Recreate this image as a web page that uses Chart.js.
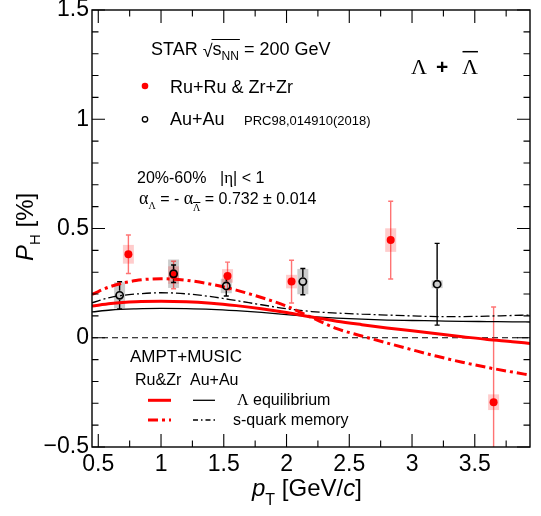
<!DOCTYPE html>
<html>
<head>
<meta charset="utf-8">
<title>Lambda polarization vs pT</title>
<script src="https://cdn.jsdelivr.net/npm/chart.js@4.4.1/dist/chart.umd.min.js"></script>
<style>
  body { margin: 0; background: #fff; }
  canvas { display: block; }
</style>
</head>
<body>
<canvas id="myChart" width="541" height="516"></canvas>
<script>
var SANS = '"Liberation Sans", Arial, Helvetica, sans-serif';
var SERIF = '"Liberation Serif", "Times New Roman", serif';

// axis ticks
var xTicks = [0.5, 1, 1.5, 2, 2.5, 3, 3.5];
var xTickLabels = ['0.5', '1', '1.5', '2', '2.5', '3', '3.5'];
var yTicks = [-0.5, 0, 0.5, 1, 1.5];
var yTickLabels = ['\u22120.5', '0', '0.5', '1', '1.5'];

// Ru+Ru & Zr+Zr, 20-60%
var ruX = [0.74, 1.10, 1.53, 2.04, 2.83, 3.65];
var ruY = [0.382, 0.287, 0.283, 0.257, 0.447, -0.295];
var ruStat = [0.088, 0.063, 0.063, 0.098, 0.178, 0.436];
var ruSys = [0.043, 0.040, 0.031, 0.031, 0.054, 0.036];

// Au+Au, PRC98,014910(2018)
var auX = [0.67, 1.10, 1.52, 2.13, 3.20];
var auY = [0.194, 0.293, 0.237, 0.257, 0.245];
var auStat = [0.062, 0.040, 0.046, 0.060, 0.187];
var auSys = [0.060, 0.065, 0.033, 0.058, 0.018];

// AMPT+MUSIC curves
var modelX = [0.45, 0.6, 0.8, 1.0, 1.2, 1.4, 1.6, 1.8, 2.0, 2.2, 2.4, 2.6, 2.8, 3.0, 3.2, 3.4, 3.6, 3.8, 3.94];
var ruEq  = [0.145, 0.157, 0.165, 0.167, 0.165, 0.158, 0.147, 0.133, 0.116, 0.095, 0.076, 0.060, 0.045, 0.032, 0.018, 0.005, -0.008, -0.018, -0.026];
var ruMem = [0.199, 0.235, 0.262, 0.270, 0.263, 0.245, 0.218, 0.184, 0.145, 0.093, 0.042, 0.008, -0.024, -0.055, -0.085, -0.112, -0.136, -0.157, -0.171];
var auEq  = [0.118, 0.127, 0.132, 0.134, 0.133, 0.130, 0.124, 0.116, 0.106, 0.097, 0.090, 0.085, 0.081, 0.079, 0.077, 0.075, 0.074, 0.073, 0.072];
var auMem = [0.160, 0.185, 0.200, 0.206, 0.201, 0.188, 0.170, 0.151, 0.133, 0.120, 0.113, 0.108, 0.104, 0.100, 0.097, 0.097, 0.099, 0.102, 0.104];

function pts(xs, ys) {
    return xs.map(function (x, i) { return { x: x, y: ys[i] }; });
}

var BOX_HALF = 5.5;
var RED_DASH = [10, 4, 3, 4];
var BLK_DASH = [9, 3, 2, 3];

// write a run of text pieces: [text, font, dy]
function rich(c, x, y, parts) {
    parts.forEach(function (p) {
        c.font = p[1];
        c.fillText(p[0], x, y + (p[2] || 0));
        x += c.measureText(p[0]).width;
    });
    return x;
}

// sys boxes, stat bars and the zero line under the graphs
var errors = {
    id: 'errors',
    beforeDatasetsDraw: function (chart) {
        var c = chart.ctx, a = chart.chartArea, xs = chart.scales.x, ys = chart.scales.y;
        c.save();
        c.beginPath();
        c.rect(a.left, a.top, a.right - a.left, a.bottom - a.top);
        c.clip();

        var y0 = ys.getPixelForValue(0);
        c.strokeStyle = '#000';
        c.lineWidth = 1;
        c.setLineDash([6, 4]);
        c.beginPath();
        c.moveTo(a.left, y0);
        c.lineTo(a.right, y0);
        c.stroke();
        c.setLineDash([]);

        function boxes(X, Y, S, col) {
            c.fillStyle = col;
            for (var i = 0; i < X.length; i++) {
                var cx = xs.getPixelForValue(X[i]);
                var t = ys.getPixelForValue(Y[i] + S[i]);
                var b = ys.getPixelForValue(Y[i] - S[i]);
                c.fillRect(cx - BOX_HALF, t, 2 * BOX_HALF, b - t);
            }
        }
        function bars(X, Y, E, col, gap) {
            c.strokeStyle = col;
            c.lineWidth = 1.4;
            c.beginPath();
            for (var i = 0; i < X.length; i++) {
                var cx = xs.getPixelForValue(X[i]);
                var cy = ys.getPixelForValue(Y[i]);
                var t = ys.getPixelForValue(Y[i] + E[i]);
                var b = ys.getPixelForValue(Y[i] - E[i]);
                c.moveTo(cx, t); c.lineTo(cx, cy - gap);
                c.moveTo(cx, cy + gap); c.lineTo(cx, b);
                c.moveTo(cx - 2.5, t); c.lineTo(cx + 2.5, t);
                c.moveTo(cx - 2.5, b); c.lineTo(cx + 2.5, b);
            }
            c.stroke();
        }
        boxes(auX, auY, auSys, 'rgba(0,0,0,0.2)');
        boxes(ruX, ruY, ruSys, 'rgba(255,0,0,0.2)');
        bars(ruX, ruY, ruStat, 'rgba(255,0,0,0.55)', 0);
        bars(auX, auY, auStat, '#000', 4.5);
        c.restore();
    }
};

// ROOT style frame with ticks on all four sides
var frame = {
    id: 'frame',
    afterDraw: function (chart) {
        var c = chart.ctx, a = chart.chartArea, xs = chart.scales.x, ys = chart.scales.y;
        c.save();
        c.strokeStyle = '#000';
        c.lineWidth = 1.4;
        c.strokeRect(a.left, a.top, a.right - a.left, a.bottom - a.top);
        c.lineWidth = 1.1;
        c.beginPath();
        for (var k = 2; k <= 15; k++) {
            var v = k * 0.25;
            var p = xs.getPixelForValue(v);
            var L = k % 2 === 0 ? 13 : 6.5;
            c.moveTo(p, a.bottom); c.lineTo(p, a.bottom - L);
            c.moveTo(p, a.top); c.lineTo(p, a.top + L);
        }
        for (var j = -5; j <= 15; j++) {
            var q = ys.getPixelForValue(j / 10);
            var M = j % 5 === 0 ? 13 : 6.5;
            c.moveTo(a.left, q); c.lineTo(a.left + M, q);
            c.moveTo(a.right, q); c.lineTo(a.right - M, q);
        }
        c.stroke();
        c.restore();
    }
};

// titles, labels and the hand-made legend
var texts = {
    id: 'texts',
    afterDraw: function (chart) {
        var c = chart.ctx;
        c.save();
        c.fillStyle = '#000';
        c.textBaseline = 'alphabetic';
        c.textAlign = 'left';

        // STAR sqrt(sNN) = 200 GeV
        var x = rich(c, 151, 55, [['STAR ', '18px ' + SANS]]);
        c.font = '18px ' + SANS;
        c.fillText('\u221A', x, 57);
        x += c.measureText('\u221A').width;
        var x1 = rich(c, x, 55, [['s', '18px ' + SANS], ['NN', '12px ' + SANS, 5]]);
        c.strokeStyle = '#000';
        c.lineWidth = 1;
        c.beginPath(); c.moveTo(x - 1, 39.5); c.lineTo(x1 + 1, 39.5); c.stroke();
        rich(c, x1, 55, [[' = 200 GeV', '18px ' + SANS]]);

        // data legend
        c.fillStyle = '#f00';
        c.beginPath(); c.arc(145, 86, 3.3, 0, 2 * Math.PI); c.fill();
        c.strokeStyle = '#000'; c.lineWidth = 1.3;
        c.beginPath(); c.arc(145, 119.3, 2.7, 0, 2 * Math.PI); c.stroke();
        c.fillStyle = '#000';
        rich(c, 170, 93.3, [['Ru+Ru & Zr+Zr', '18px ' + SANS]]);
        rich(c, 170, 125, [['Au+Au', '18px ' + SANS]]);
        rich(c, 244, 125, [['PRC98,014910(2018)', '13px ' + SANS]]);

        // Lambda + anti-Lambda
        rich(c, 411, 74, [['\u039B', '22px ' + SERIF]]);
        rich(c, 436, 74, [['+', 'bold 21px ' + SANS]]);
        var lx = 462;
        c.font = '22px ' + SERIF;
        c.fillText('\u039B', lx, 74);
        var lw = c.measureText('\u039B').width;
        c.lineWidth = 1.5;
        c.beginPath(); c.moveTo(lx + 0.5, 51.7); c.lineTo(lx + lw, 51.7); c.stroke();

        // centrality, eta, alpha
        rich(c, 137, 183.3, [['20%-60%', '16px ' + SANS]]);
        rich(c, 220, 183.3, [['|', '16px ' + SANS], ['\u03B7', '17px ' + SERIF], ['|', '16px ' + SANS], [' < 1', '16px ' + SANS]]);
        x = rich(c, 139, 204, [['\u03B1', '18px ' + SERIF], ['\u039B', '10px ' + SERIF, 5], [' = - ', '16px ' + SANS], ['\u03B1', '18px ' + SERIF]]);
        c.font = '10px ' + SERIF;
        c.fillText('\u039B', x, 211);
        var sw = c.measureText('\u039B').width;
        c.lineWidth = 1;
        c.beginPath(); c.moveTo(x, 202.5); c.lineTo(x + sw, 202.5); c.stroke();
        rich(c, x + sw, 204, [[' = 0.732 \u00B1 0.014', '16px ' + SANS]]);

        // model legend
        rich(c, 130, 361.7, [['AMPT+MUSIC', '17px ' + SANS]]);
        rich(c, 135, 385, [['Ru&Zr', '16px ' + SANS]]);
        rich(c, 190, 385, [['Au+Au', '16px ' + SANS]]);
        function seg(x0, x1, y, col, w, dash) {
            c.strokeStyle = col; c.lineWidth = w; c.setLineDash(dash);
            c.beginPath(); c.moveTo(x0, y); c.lineTo(x1, y); c.stroke();
            c.setLineDash([]);
        }
        seg(148, 171, 400.3, '#f00', 3, []);
        seg(193, 215, 400.3, '#000', 1.3, []);
        seg(148, 171, 420, '#f00', 3, RED_DASH);
        seg(193, 215, 420, '#000', 1.3, [5, 3, 1.5, 3]);
        rich(c, 237, 404.5, [['\u039B', '16px ' + SERIF], [' equilibrium', '16px ' + SANS]]);
        rich(c, 233, 424.5, [['s-quark memory', '16px ' + SANS]]);

        // axis titles
        c.fillStyle = '#000';
        x = rich(c, 252, 496, [['p', 'italic 24px ' + SANS], ['T', '16px ' + SANS, 9]]);
        rich(c, x, 496, [[' [GeV/', '24px ' + SANS], ['c', 'italic 24px ' + SANS], [']', '24px ' + SANS]]);
        c.translate(33, 261);
        c.rotate(-Math.PI / 2);
        rich(c, 0, 0, [['P', 'italic 24px ' + SANS], ['H', '15px ' + SANS, 7], [' [%]', '24px ' + SANS]]);
        c.restore();
    }
};

var ctx = document.getElementById('myChart').getContext('2d');
var chart = new Chart(ctx, {
    type: 'scatter',
    data: {
        datasets: [{
            label: 'Au+Au',
            data: pts(auX, auY),
            pointRadius: 3.6,
            pointBorderWidth: 1.7,
            pointBorderColor: '#000',
            pointBackgroundColor: 'rgba(0,0,0,0)',
            order: 1
        }, {
            label: 'Ru+Ru & Zr+Zr',
            data: pts(ruX, ruY),
            pointRadius: 4,
            pointBorderWidth: 0,
            pointBackgroundColor: '#f00',
            order: 2
        }, {
            type: 'line',
            label: 'Ru&Zr s-quark memory',
            data: pts(modelX, ruMem),
            borderColor: '#f00',
            borderWidth: 3,
            borderDash: RED_DASH,
            pointRadius: 0,
            cubicInterpolationMode: 'monotone',
            order: 3
        }, {
            type: 'line',
            label: 'Ru&Zr Lambda equilibrium',
            data: pts(modelX, ruEq),
            borderColor: '#f00',
            borderWidth: 3,
            pointRadius: 0,
            cubicInterpolationMode: 'monotone',
            order: 4
        }, {
            type: 'line',
            label: 'Au+Au s-quark memory',
            data: pts(modelX, auMem),
            borderColor: '#000',
            borderWidth: 1.3,
            borderDash: BLK_DASH,
            pointRadius: 0,
            cubicInterpolationMode: 'monotone',
            order: 5
        }, {
            type: 'line',
            label: 'Au+Au Lambda equilibrium',
            data: pts(modelX, auEq),
            borderColor: '#000',
            borderWidth: 1.3,
            pointRadius: 0,
            cubicInterpolationMode: 'monotone',
            order: 6
        }]
    },
    options: {
        responsive: false,
        animation: false,
        layout: { padding: { left: 0, right: 11, top: 10, bottom: 0 } },
        plugins: {
            legend: { display: false },
            tooltip: { enabled: false }
        },
        scales: {
            x: {
                type: 'linear',
                min: 0.45,
                max: 3.94,
                grid: { display: false, drawTicks: false },
                border: { display: false },
                afterBuildTicks: function (s) {
                    s.ticks = xTicks.map(function (v) { return { value: v }; });
                },
                afterFit: function (s) { s.height = 69; s.paddingLeft = 0; s.paddingRight = 0; },
                ticks: {
                    color: '#000',
                    padding: 4,
                    maxRotation: 0,
                    font: { family: 'Liberation Sans', size: 23 },
                    callback: function (v) { return xTickLabels[xTicks.indexOf(v)]; }
                }
            },
            y: {
                min: -0.5,
                max: 1.5,
                grid: { display: false, drawTicks: false },
                border: { display: false },
                afterBuildTicks: function (s) {
                    s.ticks = yTicks.map(function (v) { return { value: v }; });
                },
                afterFit: function (s) { s.width = 92; s.paddingTop = 0; s.paddingBottom = 0; },
                ticks: {
                    color: '#000',
                    padding: 3,
                    font: { family: 'Liberation Sans', size: 23 },
                    callback: function (v) { return yTickLabels[yTicks.indexOf(v)]; }
                }
            }
        }
    },
    plugins: [errors, frame, texts]
});
</script>
</body>
</html>
